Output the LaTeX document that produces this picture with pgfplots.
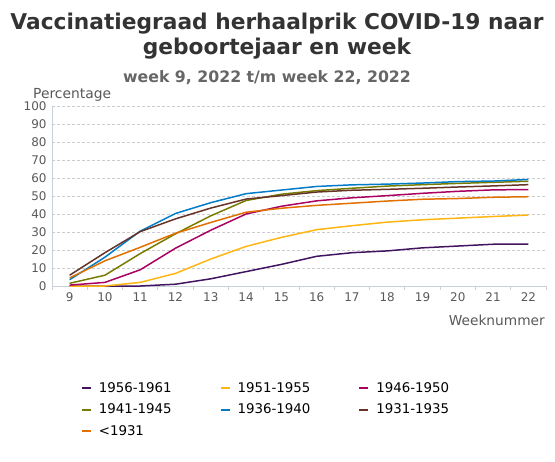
\documentclass[border=0pt]{standalone}
\usepackage{pgfplots}
\pgfplotsset{compat=1.18}
\usepackage{fontspec}
\setmainfont{DejaVu Sans}
\definecolor{cpurple}{HTML}{42145F}
\definecolor{cyellow}{HTML}{FFB612}
\definecolor{cmagenta}{HTML}{A90061}
\definecolor{colive}{HTML}{777C00}
\definecolor{cblue}{HTML}{007BC7}
\definecolor{cbrown}{HTML}{673327}
\definecolor{corange}{HTML}{E17000}
\definecolor{titlegray}{HTML}{333333}
\definecolor{subgray}{HTML}{666666}
\definecolor{labelgray}{HTML}{595959}
\definecolor{axisgray}{HTML}{C8D0DA}
\begin{document}
\begin{tikzpicture}
\path[use as bounding box] (0bp,0bp) rectangle (555bp,-462bp);
\node[font=\fontsize{21.8}{26}\selectfont\bfseries, text=titlegray, anchor=base] at (277bp,-29bp) {Vaccinatiegraad herhaalprik COVID-19 naar};
\node[font=\fontsize{21.8}{26}\selectfont\bfseries, text=titlegray, anchor=base] at (277bp,-54bp) {geboortejaar en week};
\node[font=\fontsize{15.8}{18}\selectfont\bfseries, text=subgray, anchor=base] at (267bp,-82bp) {week 9, 2022 t/m week 22, 2022};
\node[font=\fontsize{13.9}{16}\selectfont, text=labelgray, anchor=base west, inner sep=0] at (33bp,-98bp) {Percentage};
\node[font=\fontsize{13.8}{16}\selectfont, text=labelgray, anchor=base east, inner sep=0] at (545bp,-325bp) {Weeknummer};
\begin{axis}[
  at={(52bp,-286bp)}, anchor=south west, scale only axis,
  width=494bp, height=180bp,
  xmin=8.5, xmax=22.5, ymin=0, ymax=100,
  ytick={0,10,...,100}, xtick={9,...,22},
  minor xtick={8.5,9.5,...,22.5},
  axis x line=bottom, axis y line=left,
  axis line style={draw=axisgray, line width=0.8pt, -},
  ymajorgrids, major grid style={dash pattern=on 3bp off 2bp, draw=gray!40, line width=0.6pt},
  major tick length=0pt, minor tick length=4bp, tick align=outside,
  minor tick style={draw=axisgray, line width=0.8pt},
  every tick/.style={draw=axisgray},
  ticklabel style={font=\fontsize{12}{14}\selectfont, text=labelgray},
  yticklabel style={xshift=-2bp},
  xticklabel style={yshift=-3bp},
  /pgf/number format/assume math mode=true,
  clip=false,
  every axis plot/.append style={line width=1.5pt, no markers},
  legend columns=3,
  legend cell align=left,
  legend style={at={(rel axis cs:0.058,-0.525)}, anchor=north west, draw=none, fill=none,
    font=\fontsize{13.4}{16}\selectfont, inner sep=0pt, row sep=6bp,
    /tikz/every odd column/.append style={column sep=5bp},
    /tikz/every even column/.append style={column sep=46bp}},
  legend image code/.code={\draw[#1, line width=2pt] (0bp,0bp) -- (9bp,0bp);},
]
\addplot[cpurple] coordinates {(9,0) (10,0) (11,0) (12,1) (13,4) (14,8) (15,12) (16,16.5) (17,18.5) (18,19.5) (19,21.2) (20,22.2) (21,23.2) (22,23.2)};
\addlegendentry{1956-1961}
\addplot[cyellow] coordinates {(9,0) (10,0) (11,2) (12,7) (13,15) (14,22) (15,27) (16,31.3) (17,33.5) (18,35.5) (19,36.8) (20,37.7) (21,38.6) (22,39.4)};
\addlegendentry{1951-1955}
\addplot[cmagenta] coordinates {(9,0.5) (10,2) (11,9) (12,21) (13,31) (14,40) (15,44.3) (16,47.3) (17,49) (18,50.2) (19,51.5) (20,52.6) (21,53.4) (22,53.6)};
\addlegendentry{1946-1950}
\addplot[colive] coordinates {(9,1.5) (10,6) (11,18) (12,29) (13,39) (14,47.5) (15,51) (16,53) (17,54.3) (18,55.5) (19,56.3) (20,57) (21,57.6) (22,58.2)};
\addlegendentry{1941-1945}
\addplot[cblue] coordinates {(9,3.5) (10,16) (11,30.5) (12,40.3) (13,46.3) (14,51.3) (15,53.3) (16,55.3) (17,56.2) (18,56.6) (19,57.2) (20,58) (21,58.3) (22,59.2)};
\addlegendentry{1936-1940}
\addplot[cbrown] coordinates {(9,6) (10,18.5) (11,30.2) (12,37.3) (13,43.3) (14,48.3) (15,50.2) (16,52.2) (17,53.2) (18,53.7) (19,54.3) (20,55) (21,55.6) (22,56.3)};
\addlegendentry{1931-1935}
\addplot[corange] coordinates {(9,4.5) (10,14) (11,21.5) (12,29.3) (13,35.3) (14,41) (15,43.2) (16,44.8) (17,46) (18,47.2) (19,48.2) (20,48.6) (21,49.3) (22,49.6)};
\addlegendentry{<1931}
\end{axis}
\end{tikzpicture}
\end{document}
